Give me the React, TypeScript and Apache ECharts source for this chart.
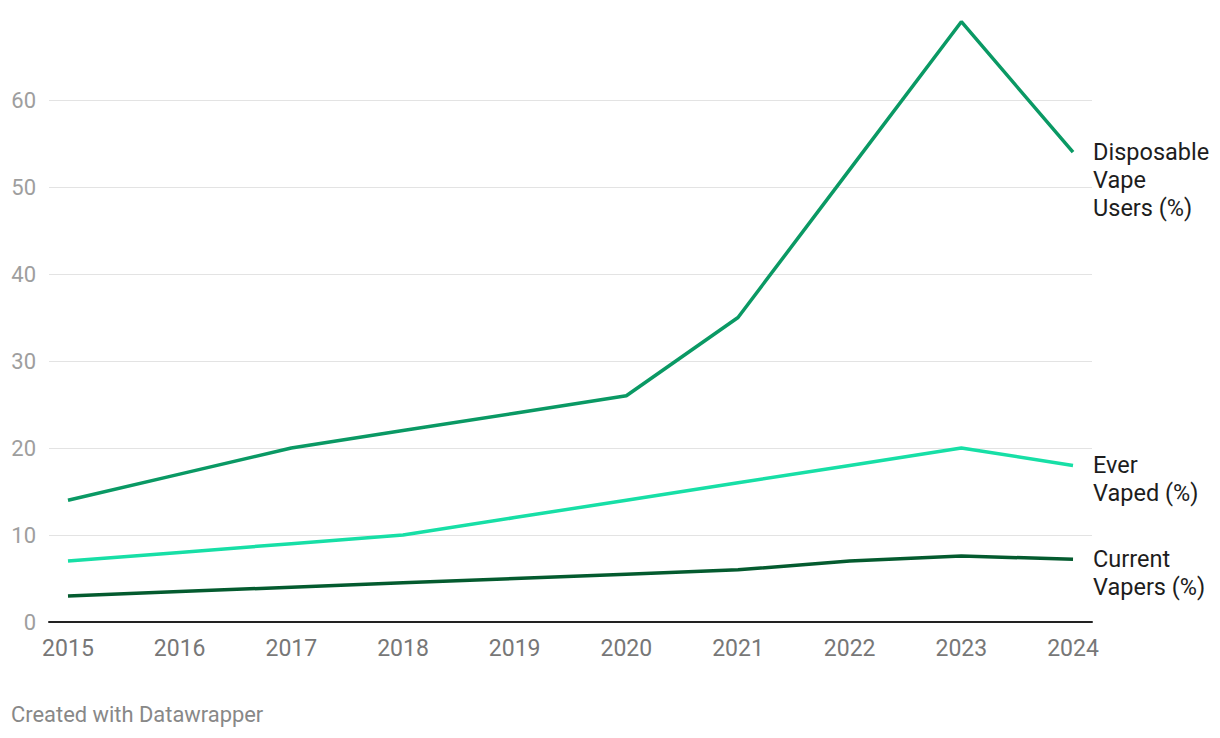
import React, { useEffect, useRef } from "react";
import * as echarts from "echarts";

const years = [2015, 2016, 2017, 2018, 2019, 2020, 2021, 2022, 2023, 2024];
const disposable = [14, 17, 20, 22, 24, 26, 35, 52, 69, 54];
const everVaped = [7, 8, 9, 10, 12, 14, 16, 18, 20, 18];
const current = [3, 3.5, 4, 4.5, 5, 5.5, 6, 7, 7.6, 7.2];
const yTicks = [0, 10, 20, 30, 40, 50, 60];

const seriesDefs = [
  { name: "Disposable\nVape\nUsers (%)", data: disposable, color: "#0a9964", lines: 3 },
  { name: "Ever\nVaped (%)", data: everVaped, color: "#17dfa6", lines: 2 },
  { name: "Current\nVapers (%)", data: current, color: "#045b2f", lines: 2 },
];

export default function App() {
  const ref = useRef<HTMLDivElement>(null);
  useEffect(() => {
    document.body.style.margin = "0";
    const chart = echarts.init(ref.current!, null, { renderer: "svg" });
    chart.setOption({
      animation: false,
      textStyle: { fontFamily: "Roboto" },
      title: {
        text: "Created with Datawrapper",
        left: 11,
        top: 703,
        padding: 0,
        textStyle: { fontSize: 21.9, fontWeight: "normal", color: "#888888", fontFamily: "Roboto" },
      },
      grid: { left: 49, right: 128, top: 13, bottom: 116 },
      xAxis: {
        type: "value",
        min: 2014.83,
        max: 2024.17,
        axisLine: { show: true, lineStyle: { color: "#222222", width: 2 } },
        axisTick: { show: false },
        splitLine: { show: false },
        axisLabel: {
          customValues: years,
          formatter: (v: number) => String(Math.round(v)),
          color: "#777777",
          fontSize: 23,
          margin: 15,
          fontFamily: "Roboto",
        },
      },
      yAxis: {
        type: "value",
        min: 0,
        max: 70,
        interval: 10,
        axisLine: { show: false },
        axisTick: { show: false },
        splitLine: { show: true, showMaxLine: false, showMinLine: false, lineStyle: { color: "#e3e3e3", width: 1 } },
        axisLabel: {
          customValues: yTicks,
          color: "#9e9e9e",
          fontSize: 22,
          margin: 13,
          fontFamily: "Roboto",
        },
      },
      series: seriesDefs.map((s) => ({
        type: "line",
        name: s.name,
        data: s.data.map((v, i) => [years[i], v]),
        symbol: "none",
        lineStyle: { color: s.color, width: 3.5 },
        itemStyle: { color: s.color },
        endLabel: {
          show: true,
          formatter: () => s.name,
          color: "#1d1d1d",
          fontSize: 23.5,
          lineHeight: 28,
          distance: 20,
          offset: [0, (s.lines - 1) * 14],
          fontFamily: "Roboto",
        },
      })),
    });
    return () => chart.dispose();
  }, []);
  return <div ref={ref} style={{ width: 1220, height: 738 }} />;
}
